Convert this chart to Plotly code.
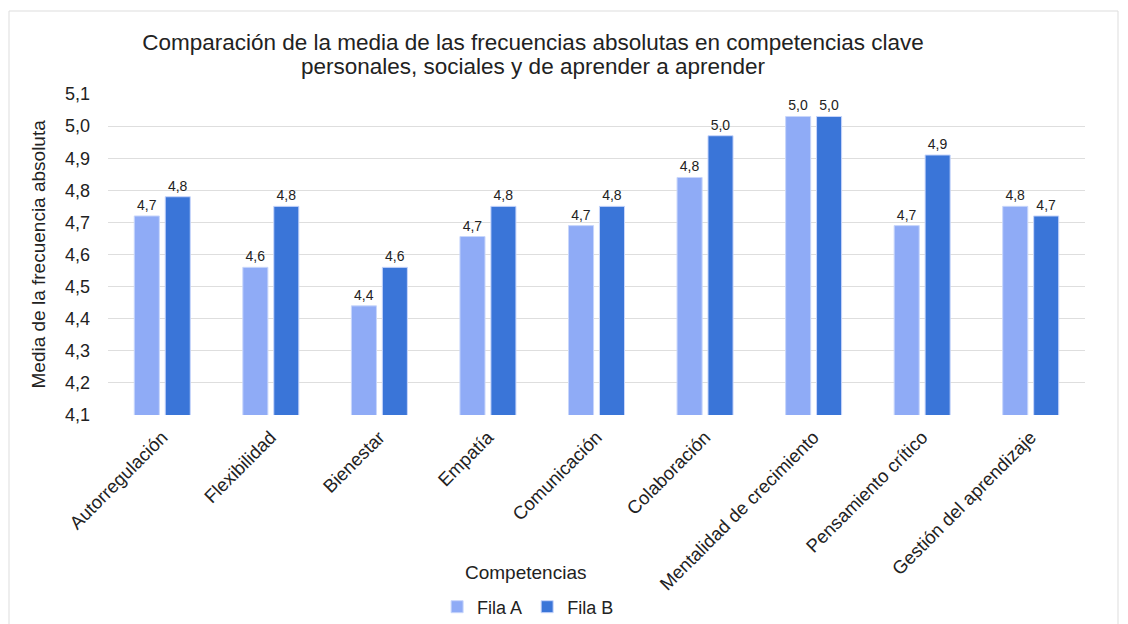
import plotly.graph_objects as go

competencias = [
    "Autorregulación", "Flexibilidad", "Bienestar", "Empatía", "Comunicación",
    "Colaboración", "Mentalidad de crecimiento", "Pensamiento crítico",
    "Gestión del aprendizaje",
]
fila_a = [4.72, 4.56, 4.44, 4.656, 4.69, 4.84, 5.03, 4.69, 4.75]
fila_b = [4.78, 4.75, 4.56, 4.75, 4.75, 4.97, 5.03, 4.91, 4.72]

y_ticks = [4.1, 4.2, 4.3, 4.4, 4.5, 4.6, 4.7, 4.8, 4.9, 5.0, 5.1]

FONT = "Liberation Sans, Arial, sans-serif"
INK = "#222222"

# the page body keeps its default 8px margin, so the figure is 8px smaller
W, H = 1120, 616
OFF = 8

fig = go.Figure()
for name, vals, color in [("Fila A", fila_a, "#8fabf6"), ("Fila B", fila_b, "#3a75d8")]:
    fig.add_trace(
        go.Bar(
            x=competencias,
            y=vals,
            name=name,
            marker={"color": color, "line": {"color": "#c8d6fb", "width": 1}},
            texttemplate="%{y:.1f}",
            textposition="outside",
            textfont={"size": 14, "color": INK},
            cliponaxis=False,
        )
    )

fig.update_layout(
    width=W,
    height=H,
    separators=",.",
    font={"family": FONT, "color": INK},
    paper_bgcolor="white",
    plot_bgcolor="white",
    barmode="group",
    bargap=0.43,
    bargroupgap=0.19,
    margin={"l": 108 - OFF, "r": 43, "t": 94 - OFF, "b": 209},
    # title split in two lines to get the tight line spacing of the original
    title={
        "text": "Comparación de la media de las frecuencias absolutas en competencias clave",
        "x": (533 - OFF) / W,
        "xanchor": "center",
        "y": 1 - (42 - OFF) / H,
        "yanchor": "middle",
        "font": {"size": 22.5, "color": INK},
    },
    xaxis={
        "tickangle": -45,
        "tickfont": {"size": 18.5, "color": INK},
        "showgrid": False,
        "ticks": "",
        "ticklabelstandoff": 7,
        "automargin": False,
    },
    yaxis={
        "range": [4.1, 5.1],
        "tickvals": y_ticks,
        "tickformat": ".1f",
        "tickfont": {"size": 18, "color": INK},
        "gridcolor": "#dedede",
        "zeroline": False,
        "ticklabelstandoff": 17,
        "automargin": False,
    },
    showlegend=True,
    legend={
        "orientation": "h",
        "x": 0.43,
        "xanchor": "center",
        "yref": "container",
        "y": 1 - (607 - OFF) / H,
        "yanchor": "middle",
        "font": {"size": 18, "color": INK},
        "itemwidth": 30,
    },
    annotations=[
        {
            "text": "personales, sociales y de aprender a aprender",
            "xref": "paper", "yref": "paper",
            "x": (533 - 108) / 977, "y": (415 - 66) / 321,
            "xanchor": "center", "yanchor": "middle",
            "showarrow": False,
            "font": {"size": 22.5, "color": INK},
        },
        {
            "text": "Competencias",
            "xref": "paper", "yref": "paper",
            "x": 0.427, "y": (415 - 572) / 321,
            "xanchor": "center", "yanchor": "middle",
            "showarrow": False,
            "font": {"size": 19, "color": INK},
        },
        {
            "text": "Media de la frecuencia absoluta",
            "xref": "paper", "yref": "paper",
            "x": (38 - 108) / 977, "y": 0.5,
            "xanchor": "center", "yanchor": "middle",
            "textangle": -90,
            "showarrow": False,
            "font": {"size": 19, "color": INK},
        },
    ],
    shapes=[
        {
            "type": "rect",
            "xref": "paper", "yref": "paper",
            "x0": (9 - 108) / 977, "x1": (1118 - 108) / 977,
            "y0": (415 - 640) / 321, "y1": (415 - 11) / 321,
            "line": {"color": "#dddddd", "width": 1},
        }
    ],
)

fig.write_html("out.html")
